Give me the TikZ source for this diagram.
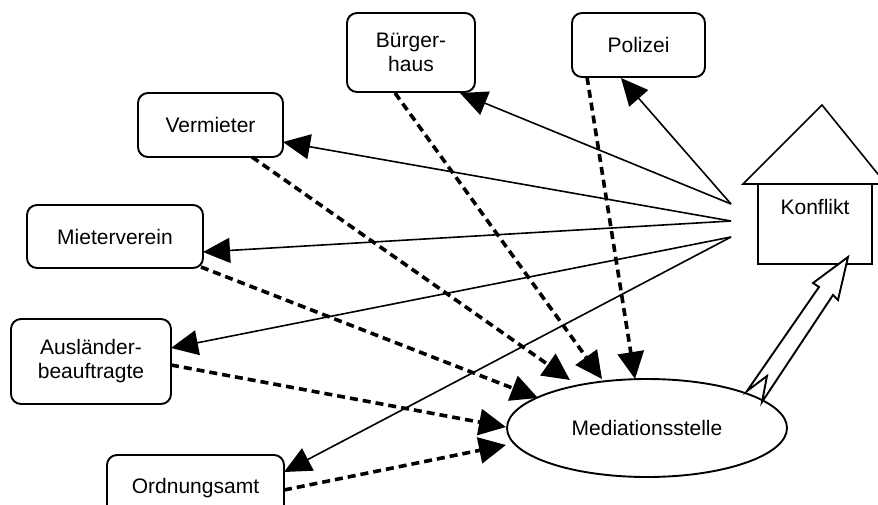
\documentclass[tikz,border=0pt]{standalone}
\usepackage{fontspec}
\setmainfont{Liberation Sans}
\usetikzlibrary{arrows.meta,shapes.geometric,calc}
\begin{document}
\begin{tikzpicture}[x=1pt,y=-1pt,
  lbl/.style={font=\fontsize{21}{24}\selectfont, align=center},
  box/.style={lbl, draw, line width=1.9pt, rounded corners=10pt, inner sep=0pt},
  solidarrow/.style={line width=1.6pt, -{Triangle[length=27pt,width=25pt]}},
  dasharrow/.style={line width=3.6pt, dash pattern=on 8pt off 5pt, -{Triangle[length=27pt,width=26pt]}}]
\useasboundingbox (0,0) rectangle (878,504);

% boxes
\node[box, minimum width=128, minimum height=79] (b) at (411,52.5) {Bürger-\\haus};
\node[box, minimum width=133, minimum height=64] (p) at (638.5,45) {Polizei};
\node[box, minimum width=145, minimum height=64] (v) at (210.5,125) {Vermieter};
\node[box, minimum width=176, minimum height=63] (m) at (115,236.5) {Mieterverein};
\node[box, minimum width=160, minimum height=85] (a) at (91,361.5) {Ausländer-\\beauftragte};
\node[box, minimum width=177, minimum height=66] (o) at (195.5,488) {Ordnungsamt};

% mediation ellipse
\node[lbl, draw, ellipse, line width=1.9pt, minimum width=280, minimum height=98, inner sep=0pt] (med) at (647,428) {Mediationsstelle};

% house
\draw[line width=1.6pt, line join=miter] (743,184) -- (822,105) -- (886,184) -- cycle;
\node[draw, line width=1.9pt, minimum width=114, minimum height=80, inner sep=0pt] (haus) at (815,224) {};
\node[lbl] (konflikt) at (815,207) {Konflikt};

% free ends of the solid arrows
\coordinate (k1) at (731,204);
\coordinate (k2) at (731,221);
\coordinate (k3) at (731,237);

% solid arrows
\draw[solidarrow] (k1) -- ($(p.center)+(-17.5,33)$);
\draw[solidarrow] (k1) -- ($(b.center)+(49,40.5)$);
\draw[solidarrow] (k2) -- ($(v.center)+(72.5,17)$);
\draw[solidarrow] (k2) -- ($(m.center)+(88,15.5)$);
\draw[solidarrow] (k3) -- ($(a.center)+(80,-13.5)$);
\draw[solidarrow] (k3) -- ($(o.center)+(88.5,-16)$);

% dashed arrows
\draw[dasharrow] ($(p.center)+(-51.5,32)$) -- ($(med.center)+(-12,-49)$);
\draw[dasharrow] ($(b.center)+(-16,40.5)$) -- ($(med.center)+(-45,-49)$);
\draw[dasharrow] ($(v.center)+(41.5,32)$) -- ($(med.center)+(-77,-48)$);
\draw[dasharrow] ($(m.center)+(86,30.5)$) -- ($(med.center)+(-109,-30)$);
\draw[dasharrow] ($(a.center)+(80,3.5)$) -- ($(med.center)+(-141,-1)$);
\draw[dasharrow] ($(o.center)+(88.5,2)$) -- ($(med.center)+(-141,17)$);

% hollow block arrow from mediation to conflict
\draw[line width=1.9pt, line join=miter, fill=white]
  (848,257) -- (838,300) -- (833,295) -- (762,402) -- (767,376)
  -- (747,391) -- (819,287) -- (813,283) -- cycle;
\end{tikzpicture}
\end{document}
